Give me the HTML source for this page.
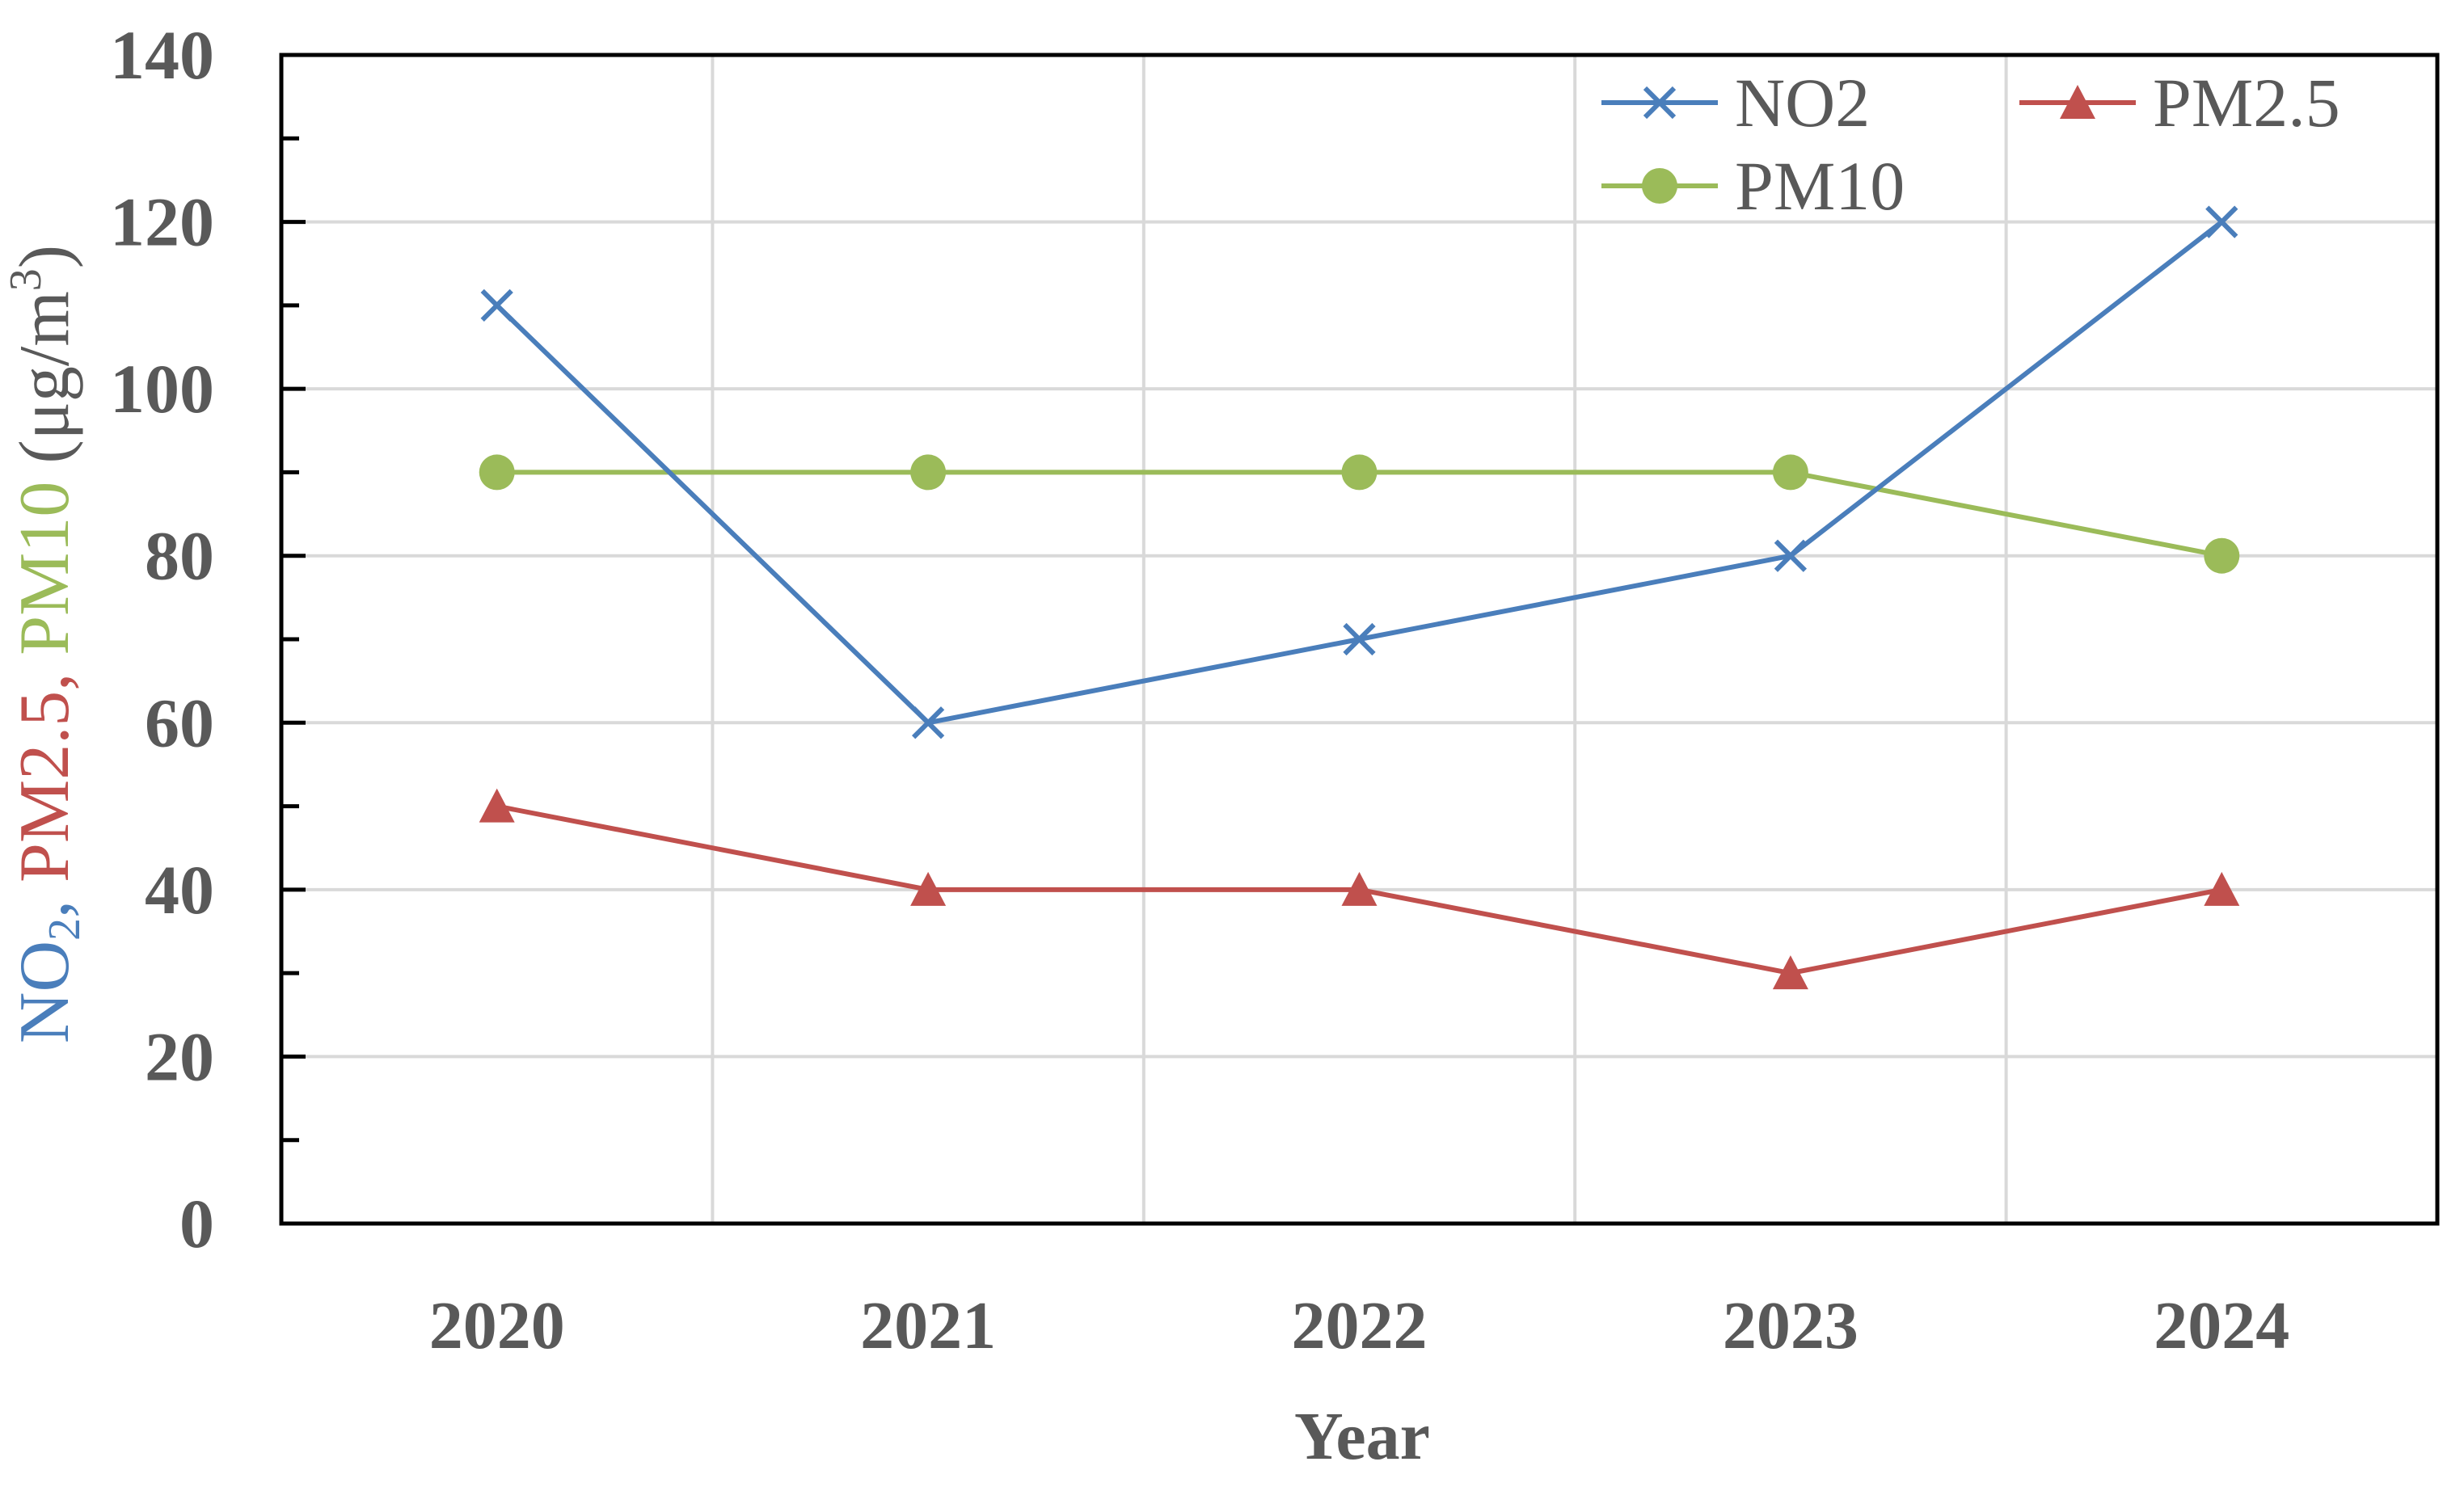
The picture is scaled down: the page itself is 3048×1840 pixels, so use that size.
<!DOCTYPE html>
<html><head><meta charset="utf-8"><style>
html,body{margin:0;padding:0;background:#fff;}
svg{display:block;}
text{font-family:"Liberation Serif",serif;}
</style></head><body>
<svg id="chart" width="3048" height="1840" viewBox="0 0 3048 1840" xmlns="http://www.w3.org/2000/svg">
<g id="grid"></g>
<g id="axes"></g>
<g id="series"></g>
<g id="labels"></g>
<text transform="translate(84,797) rotate(-90)" text-anchor="middle" font-size="88" fill="#595959"><tspan fill="#4a7ebb">NO<tspan font-size="56" dy="14">2</tspan><tspan dy="-14">, </tspan></tspan><tspan fill="#c0504d">PM2.5, </tspan><tspan fill="#9bbb59">PM10 </tspan><tspan>(μg/m<tspan font-size="56" dy="-34">3</tspan><tspan dy="34">)</tspan></tspan></text>
<text x="1685" y="1805" text-anchor="middle" font-size="84" font-weight="bold" fill="#595959">Year</text>
<g>
  <g>
    <line x1="1981" y1="127" x2="2125" y2="127" stroke="#4a7ebb" stroke-width="6"/>
    <path d="M2035,109 L2071,145 M2035,145 L2071,109" stroke="#4a7ebb" stroke-width="6"/>
    <text x="2146" y="156" font-size="86" fill="#595959">NO2</text>
  </g>
  <g>
    <line x1="2498" y1="127" x2="2642" y2="127" stroke="#c0504d" stroke-width="6"/>
    <path d="M2570,105 L2592,147 L2548,147 Z" fill="#c0504d"/>
    <text x="2663" y="156" font-size="86" fill="#595959">PM2.5</text>
  </g>
  <g>
    <line x1="1981" y1="230" x2="2125" y2="230" stroke="#9bbb59" stroke-width="6"/>
    <circle cx="2053" cy="230" r="22" fill="#9bbb59"/>
    <text x="2146" y="259" font-size="86" fill="#595959">PM10</text>
  </g>
</g>
</svg>
<script>
const categories = ["2020","2021","2022","2023","2024"];
const no2 = [110, 60, 70, 80, 120];
const pm25 = [50, 40, 40, 30, 40];
const pm10 = [90, 90, 90, 90, 80];
const yTicks = [0,20,40,60,80,100,120,140];

const NS = "http://www.w3.org/2000/svg";
const L = 348, R = 3015, T = 68, B = 1514, YMAX = 140;
const bw = (R - L) / categories.length;
function xPos(i){ return L + (i + 0.5) * bw; }
function yPos(v){ return B - (v / YMAX) * (B - T); }
function mk(tag, attrs, parent){
  const e = document.createElementNS(NS, tag);
  for (const k in attrs) e.setAttribute(k, attrs[k]);
  parent.appendChild(e);
  return e;
}
const grid = document.getElementById('grid');
const axes = document.getElementById('axes');
const series = document.getElementById('series');
const labels = document.getElementById('labels');

yTicks.forEach(v => {
  if (v > 0 && v < YMAX) {
    const g = mk('line', {x1: L, x2: R, y1: yPos(v), y2: yPos(v), stroke: '#d9d9d9', 'stroke-width': 4}, grid);
    
    
  }
  const tk = mk('line', {x1: L, x2: L + 30, y1: yPos(v), y2: yPos(v), stroke: '#000', 'stroke-width': 5}, axes);
  
  
  const t = mk('text', {x: 265, y: yPos(v) + 29, 'text-anchor': 'end', 'font-size': 86, 'font-weight': 'bold', fill: '#595959'}, labels);
  t.textContent = v;
  
  
});
for (let v = 10; v < YMAX; v += 20) {
  const tk = mk('line', {x1: L, x2: L + 22, y1: yPos(v), y2: yPos(v), stroke: '#000', 'stroke-width': 5}, axes);
  
  
}
for (let i = 1; i < categories.length; i++) {
  const x = L + i * bw;
  const g = mk('line', {x1: x, x2: x, y1: T, y2: B, stroke: '#d9d9d9', 'stroke-width': 4}, grid);
  
  
}
categories.forEach((c, i) => {
  const t = mk('text', {x: xPos(i), y: 1668, 'text-anchor': 'middle', 'font-size': 84, 'font-weight': 'bold', fill: '#595959'}, labels);
  t.textContent = c;
  
  
});
const frame = mk('rect', {x: L, y: T, width: R - L, height: B - T, fill: 'none', stroke: '#000', 'stroke-width': 5}, axes);



function drawSeries(vals, color, name, marker){
  const pts = vals.map((v, i) => xPos(i) + ',' + yPos(v)).join(' ');
  const pl = mk('polyline', {points: pts, fill: 'none', stroke: color, 'stroke-width': 6, 'stroke-linejoin': 'round'}, series);
  
  
  vals.forEach((v, i) => {
    const x = xPos(i), y = yPos(v);
    let m;
    if (marker === 'x') {
      m = mk('path', {d: `M${x-18},${y-18} L${x+18},${y+18} M${x-18},${y+18} L${x+18},${y-18}`, stroke: color, 'stroke-width': 6}, series);
    } else if (marker === 'tri') {
      m = mk('path', {d: `M${x},${y-22} L${x+22},${y+20} L${x-22},${y+20} Z`, fill: color}, series);
    } else {
      m = mk('circle', {cx: x, cy: y, r: 22, fill: color}, series);
    }
    
    
  });
}
drawSeries(pm10, '#9bbb59', 'pm10', 'circle');
drawSeries(pm25, '#c0504d', 'pm25', 'tri');
drawSeries(no2, '#4a7ebb', 'no2', 'x');
</script>
</body></html>
